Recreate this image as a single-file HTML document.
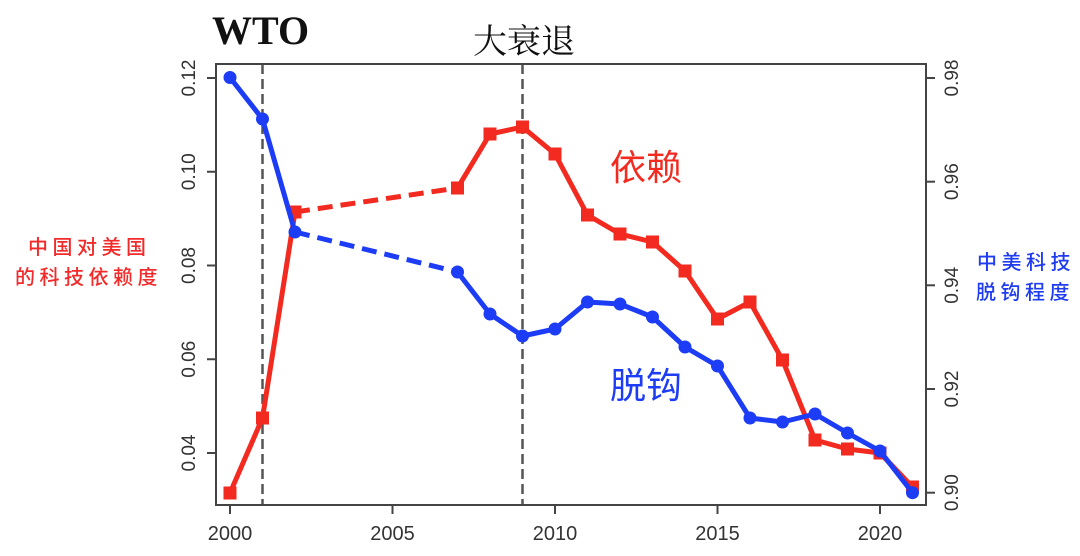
<!DOCTYPE html>
<html>
<head>
<meta charset="utf-8">
<style>
html,body{margin:0;padding:0;background:#fff;}
svg{display:block;}
</style>
</head>
<body>
<svg width="1080" height="556" viewBox="0 0 1080 556" xmlns="http://www.w3.org/2000/svg">
<rect width="1080" height="556" fill="#fff"/>

<!-- titles -->
<text x="212" y="44" font-family="Liberation Serif, serif" font-weight="bold" font-size="40" fill="#111">WTO</text>
<text x="524" y="53" text-anchor="middle" font-family="'Liberation Serif','Noto Serif CJK SC',serif" font-size="34" fill="#111">大衰退</text>

<!-- vertical dashed lines -->
<line x1="262.5" y1="64" x2="262.5" y2="505" stroke="#555" stroke-width="2.5" stroke-dasharray="10,5"/>
<line x1="522.5" y1="64" x2="522.5" y2="505" stroke="#555" stroke-width="2.5" stroke-dasharray="10,5"/>

<!-- box -->
<rect x="216" y="64" width="710" height="441" fill="none" stroke="#444" stroke-width="2"/>

<!-- x ticks -->
<g stroke="#444" stroke-width="2">
<line x1="230" y1="505" x2="230" y2="514"/>
<line x1="392.5" y1="505" x2="392.5" y2="514"/>
<line x1="555" y1="505" x2="555" y2="514"/>
<line x1="717.5" y1="505" x2="717.5" y2="514"/>
<line x1="880" y1="505" x2="880" y2="514"/>
<!-- left ticks -->
<line x1="207" y1="78" x2="216" y2="78"/>
<line x1="207" y1="171.75" x2="216" y2="171.75"/>
<line x1="207" y1="265.5" x2="216" y2="265.5"/>
<line x1="207" y1="359.25" x2="216" y2="359.25"/>
<line x1="207" y1="453" x2="216" y2="453"/>
<!-- right ticks -->
<line x1="926" y1="78" x2="935" y2="78"/>
<line x1="926" y1="181.7" x2="935" y2="181.7"/>
<line x1="926" y1="285.3" x2="935" y2="285.3"/>
<line x1="926" y1="389" x2="935" y2="389"/>
<line x1="926" y1="492.7" x2="935" y2="492.7"/>
</g>

<!-- x labels -->
<g font-family="Liberation Sans, sans-serif" font-size="20" fill="#333" text-anchor="middle">
<text x="230" y="540">2000</text>
<text x="392.5" y="540">2005</text>
<text x="555" y="540">2010</text>
<text x="717.5" y="540">2015</text>
<text x="880" y="540">2020</text>
</g>

<!-- left y labels -->
<g font-family="Liberation Sans, sans-serif" font-size="19" fill="#333" text-anchor="middle">
<text transform="translate(195,78) rotate(-90)">0.12</text>
<text transform="translate(195,171.75) rotate(-90)">0.10</text>
<text transform="translate(195,265.5) rotate(-90)">0.08</text>
<text transform="translate(195,359.25) rotate(-90)">0.06</text>
<text transform="translate(195,453) rotate(-90)">0.04</text>
<!-- right y labels -->
<text transform="translate(958,78) rotate(-90)">0.98</text>
<text transform="translate(958,181.7) rotate(-90)">0.96</text>
<text transform="translate(958,285.3) rotate(-90)">0.94</text>
<text transform="translate(958,389) rotate(-90)">0.92</text>
<text transform="translate(958,492.7) rotate(-90)">0.90</text>
</g>

<!-- side labels -->
<g font-family="'Liberation Sans','Noto Sans CJK SC',sans-serif" font-size="20" font-weight="500" fill="#f22a2a" letter-spacing="4.5">
<text x="28" y="254">中国对美国</text>
<text x="15" y="284">的科技依赖度</text>
</g>
<g font-family="'Liberation Sans','Noto Sans CJK SC',sans-serif" font-size="20" font-weight="500" fill="#1f3cf0" letter-spacing="4.5">
<text x="977" y="269">中美科技</text>
<text x="976" y="299">脱钩程度</text>
</g>

<!-- series labels -->
<text x="610" y="180" font-family="'Liberation Sans','Noto Sans CJK SC',sans-serif" font-size="36" fill="#f22a1f">依赖</text>
<text x="610" y="398" font-family="'Liberation Sans','Noto Sans CJK SC',sans-serif" font-size="36" fill="#1c3cf6">脱钩</text>

<!-- red series -->
<g stroke="#f22a1f" stroke-width="5" fill="none" stroke-linejoin="round">
<polyline points="230,493 262.5,418 295,212"/>
<line x1="295" y1="212" x2="457.5" y2="188" stroke-dasharray="15,8"/>
<polyline points="457.5,188 490,134 522.5,127 555,154 587.5,215 620,234 652.5,242 685,271 717.5,319 750,302 782.5,360 815,440 847.5,449 880,453 912.5,487"/>
</g>
<g fill="#f22a1f">
<rect x="223.5" y="486.5" width="13" height="13"/>
<rect x="256" y="411.5" width="13" height="13"/>
<rect x="288.5" y="205.5" width="13" height="13"/>
<rect x="451" y="181.5" width="13" height="13"/>
<rect x="483.5" y="127.5" width="13" height="13"/>
<rect x="516" y="120.5" width="13" height="13"/>
<rect x="548.5" y="147.5" width="13" height="13"/>
<rect x="581" y="208.5" width="13" height="13"/>
<rect x="613.5" y="227.5" width="13" height="13"/>
<rect x="646" y="235.5" width="13" height="13"/>
<rect x="678.5" y="264.5" width="13" height="13"/>
<rect x="711" y="312.5" width="13" height="13"/>
<rect x="743.5" y="295.5" width="13" height="13"/>
<rect x="776" y="353.5" width="13" height="13"/>
<rect x="808.5" y="433.5" width="13" height="13"/>
<rect x="841" y="442.5" width="13" height="13"/>
<rect x="873.5" y="446.5" width="13" height="13"/>
<rect x="906" y="480.5" width="13" height="13"/>
</g>

<!-- blue series -->
<g stroke="#1c3cf6" stroke-width="5" fill="none" stroke-linejoin="round">
<polyline points="230,77.5 262.5,119 295,232"/>
<line x1="295" y1="232" x2="457.5" y2="272" stroke-dasharray="15,8"/>
<polyline points="457.5,272 490,314 522.5,336 555,329 587.5,302 620,304 652.5,317 685,347 717.5,366 750,418 782.5,422 815,414 847.5,433 880,451 912.5,492.7"/>
</g>
<g fill="#1c3cf6">
<circle cx="230" cy="77.5" r="6.5"/>
<circle cx="262.5" cy="119" r="6.5"/>
<circle cx="295" cy="232" r="6.5"/>
<circle cx="457.5" cy="272" r="6.5"/>
<circle cx="490" cy="314" r="6.5"/>
<circle cx="522.5" cy="336" r="6.5"/>
<circle cx="555" cy="329" r="6.5"/>
<circle cx="587.5" cy="302" r="6.5"/>
<circle cx="620" cy="304" r="6.5"/>
<circle cx="652.5" cy="317" r="6.5"/>
<circle cx="685" cy="347" r="6.5"/>
<circle cx="717.5" cy="366" r="6.5"/>
<circle cx="750" cy="418" r="6.5"/>
<circle cx="782.5" cy="422" r="6.5"/>
<circle cx="815" cy="414" r="6.5"/>
<circle cx="847.5" cy="433" r="6.5"/>
<circle cx="880" cy="451" r="6.5"/>
<circle cx="912.5" cy="492.7" r="6.5"/>
</g>
</svg>
</body>
</html>
